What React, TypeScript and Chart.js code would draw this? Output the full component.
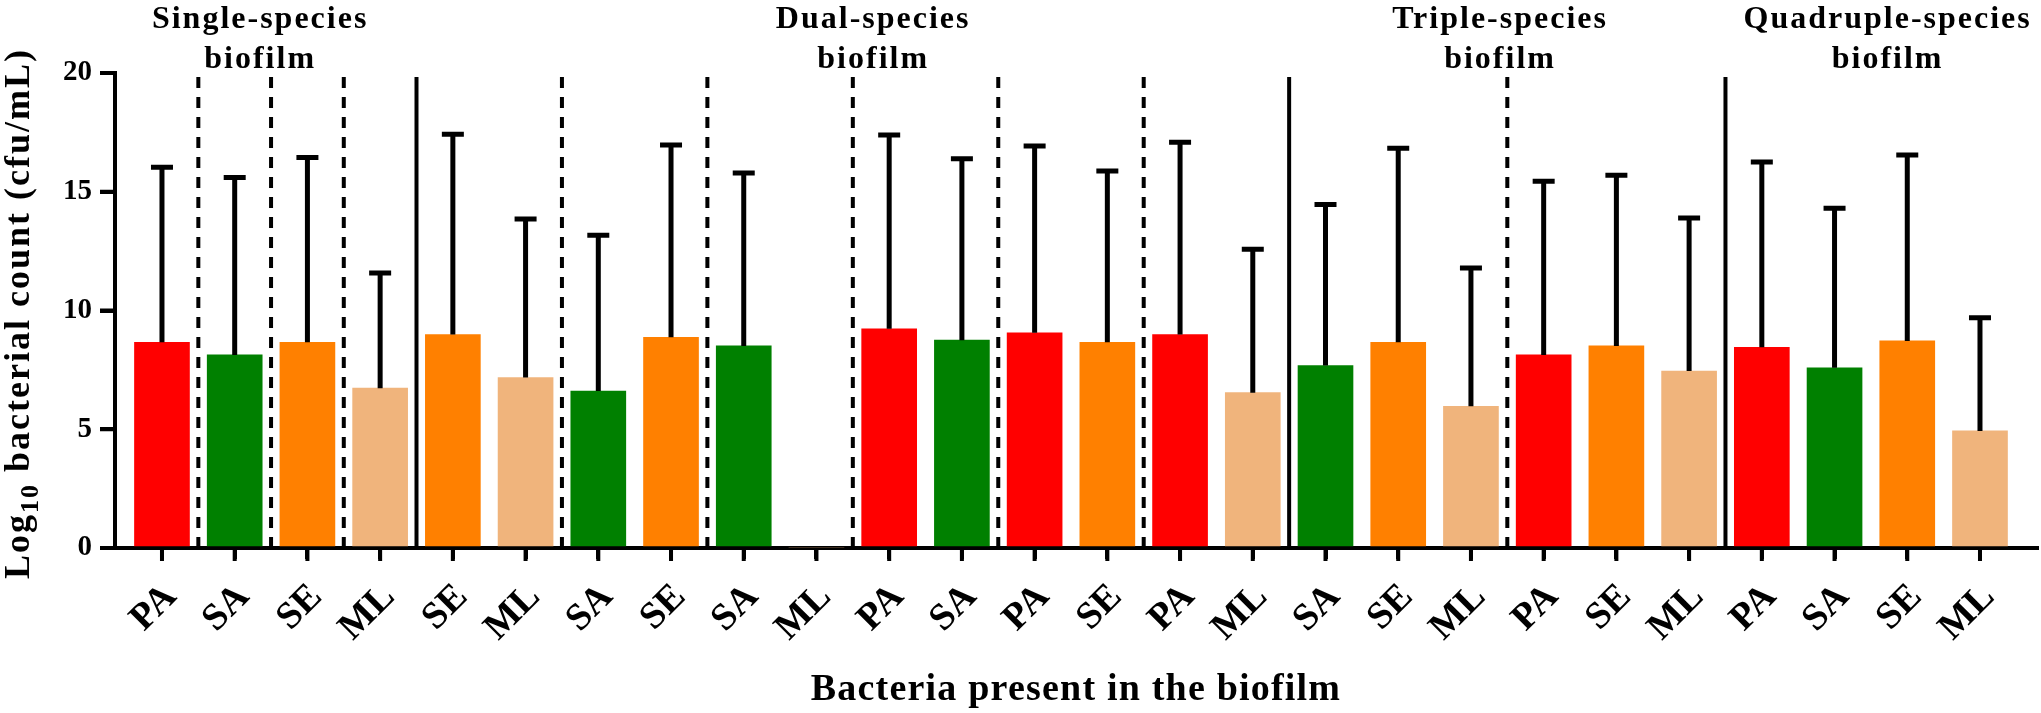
import { useEffect, useRef } from "react";
import { Chart, registerables } from "chart.js";

Chart.register(...registerables);

// bacteria in each biofilm, left to right
const labels = [
  "PA", "SA", "SE", "ML",
  "SE", "ML", "SA", "SE", "SA", "ML", "PA", "SA", "PA", "SE", "PA", "ML",
  "SA", "SE", "ML", "PA", "SE", "ML",
  "PA", "SA", "SE", "ML",
];
// log10 cfu/mL, mean and SD
const means = [
  8.66, 8.13, 8.66, 6.73,
  8.99, 7.18, 6.61, 8.87, 8.51, 0, 9.23, 8.75, 9.06, 8.66, 8.99, 6.54,
  7.68, 8.66, 5.97, 8.13, 8.51, 7.45,
  8.45, 7.59, 8.72, 4.93,
];
const sds = [
  7.37, 7.47, 7.78, 4.85,
  8.43, 6.67, 6.56, 8.1, 7.28, 0, 8.16, 7.64, 7.87, 7.21, 8.09, 6.04,
  6.78, 8.17, 5.82, 7.31, 7.18, 6.45,
  7.8, 6.72, 7.83, 4.76,
];
const yTicks = [0, 5, 10, 15, 20];

// separators sit between bar i and i+1
const dashedAfter = [0, 1, 2, 5, 7, 9, 11, 13, 18];
const solidAfter = [3, 15, 21];

const groupTitles = [
  ["Single-species", "biofilm"],
  ["Dual-species", "biofilm"],
  ["Triple-species", "biofilm"],
  ["Quadruple-species", "biofilm"],
];
const groupCenters = [1.35, 9.78, 18.4, 23.73];

const colors: Record<string, string> = {
  PA: "#ff0000",
  SA: "#008000",
  SE: "#ff8000",
  ML: "#f0b47c",
};

const FONT = "'Liberation Serif', 'Times New Roman', serif";

const annotations = {
  id: "annotations",
  beforeDatasetsDraw(chart: any) {
    const { ctx } = chart;
    const { x, y } = chart.scales;
    const top = y.getPixelForValue(20) + 4;
    const bottom = y.getPixelForValue(0);
    ctx.save();
    ctx.strokeStyle = "#000";
    ctx.lineWidth = 4;
    for (const i of dashedAfter) {
      const px = x.getPixelForValue(i + 0.5);
      ctx.setLineDash([11, 9]);
      ctx.beginPath();
      ctx.moveTo(px, top);
      ctx.lineTo(px, bottom);
      ctx.stroke();
    }
    ctx.setLineDash([]);
    for (const i of solidAfter) {
      const px = x.getPixelForValue(i + 0.5);
      ctx.beginPath();
      ctx.moveTo(px, top);
      ctx.lineTo(px, bottom);
      ctx.stroke();
    }
    ctx.restore();
  },
  afterDatasetsDraw(chart: any) {
    const { ctx } = chart;
    const { y } = chart.scales;
    const bars = chart.getDatasetMeta(0).data;
    ctx.save();
    ctx.strokeStyle = "#000";
    ctx.lineWidth = 5;
    bars.forEach((bar: any, i: number) => {
      if (!sds[i]) return;
      const y0 = y.getPixelForValue(means[i]);
      const y1 = y.getPixelForValue(means[i] + sds[i]);
      ctx.beginPath();
      ctx.moveTo(bar.x, y0);
      ctx.lineTo(bar.x, y1);
      ctx.moveTo(bar.x - 11, y1);
      ctx.lineTo(bar.x + 11, y1);
      ctx.stroke();
    });
    ctx.restore();
  },
  afterDraw(chart: any) {
    const { ctx } = chart;
    const { x, y } = chart.scales;
    ctx.save();

    // tick marks on both axes
    ctx.strokeStyle = "#000";
    ctx.lineWidth = 4;
    ctx.beginPath();
    labels.forEach((_, i) => {
      const px = x.getPixelForValue(i);
      ctx.moveTo(px, y.bottom);
      ctx.lineTo(px, y.bottom + 13);
    });
    yTicks.forEach((v) => {
      const py = y.getPixelForValue(v);
      ctx.moveTo(x.left, py);
      ctx.lineTo(x.left - 15, py);
    });
    ctx.stroke();

    ctx.fillStyle = "#000";

    // group headers
    ctx.letterSpacing = "2px";
    ctx.font = `bold 32px ${FONT}`;
    ctx.textAlign = "center";
    ctx.textBaseline = "alphabetic";
    groupTitles.forEach((lines, g) => {
      const px = x.getPixelForValue(groupCenters[g]);
      ctx.fillText(lines[0], px, 28);
      ctx.fillText(lines[1], px, 68);
    });

    // x title
    ctx.letterSpacing = "1.2px";
    ctx.font = `bold 38px ${FONT}`;
    ctx.fillText("Bacteria present in the biofilm", (x.left + x.right) / 2, 700);

    // y title with subscript
    ctx.translate(29, (y.top + y.bottom) / 2 + 3);
    ctx.rotate(-Math.PI / 2);
    ctx.letterSpacing = "2px";
    ctx.textAlign = "left";
    const main = `bold 36px ${FONT}`;
    const sub = `bold 26px ${FONT}`;
    const parts: [string, string, number][] = [
      ["Log", main, 0],
      ["10", sub, 9],
      [" bacterial count (cfu/mL)", main, 0],
    ];
    let total = 0;
    for (const [t, f] of parts) {
      ctx.font = f;
      total += ctx.measureText(t).width;
    }
    let cx = -total / 2;
    for (const [t, f, dy] of parts) {
      ctx.font = f;
      ctx.fillText(t, cx, dy);
      cx += ctx.measureText(t).width;
    }
    ctx.restore();
  },
};

export default function App() {
  const canvasRef = useRef<HTMLCanvasElement>(null);
  const chartRef = useRef<Chart | null>(null);

  useEffect(() => {
    if (!canvasRef.current) return;

    chartRef.current?.destroy();
    chartRef.current = new Chart(canvasRef.current, {
      type: "bar",
      data: {
        datasets: [
          {
            data: means.map((v, i) => ({ x: i, y: v })),
            backgroundColor: labels.map((l) => colors[l]),
            barThickness: 55,
            borderWidth: 0,
          },
        ],
      },
      options: {
        animation: false,
        responsive: true,
        maintainAspectRatio: false,
        layout: { padding: { top: 73, right: 4, left: 0, bottom: 0 } },
        plugins: { legend: { display: false }, tooltip: { enabled: false } },
        scales: {
          x: {
            type: "linear",
            offset: false,
            min: -0.646,
            max: 25.784,
            afterBuildTicks: (s: any) => {
              s.ticks = labels.map((_, i) => ({ value: i }));
            },
            afterFit: (s: any) => {
              s.height = 165;
              s.paddingLeft = 0;
              s.paddingRight = 0;
            },
            ticks: {
              callback: (v: any) => labels[v],
              font: { family: FONT, size: 38, weight: "bold" },
              color: "#000",
              minRotation: 45,
              maxRotation: 45,
              padding: 16,
              labelOffset: 9,
              autoSkip: false,
              includeBounds: false,
            },
            grid: {
              offset: false,
              drawOnChartArea: false,
              drawTicks: true,
              tickLength: 11,
              lineWidth: 4,
              color: "#000",
            },
            border: { display: true, width: 4, color: "#000" },
          },
          y: {
            min: 0,
            max: 20,
            afterBuildTicks: (s: any) => {
              s.ticks = yTicks.map((v) => ({ value: v }));
            },
            afterFit: (s: any) => {
              s.width = 115;
            },
            ticks: {
              font: { family: FONT, size: 29, weight: "bold" },
              color: "#000",
              padding: 8,
            },
            grid: {
              drawOnChartArea: false,
              tickLength: 15,
              lineWidth: 4,
              color: "#000",
            },
            border: { display: true, width: 4, color: "#000" },
          },
        },
      },
      plugins: [annotations],
    });

    return () => chartRef.current?.destroy();
  }, []);

  return (
    <div style={{ position: "fixed", left: 0, top: 0, width: 2041, height: 713, background: "#fff" }}>
      <canvas ref={canvasRef} />
    </div>
  );
}
